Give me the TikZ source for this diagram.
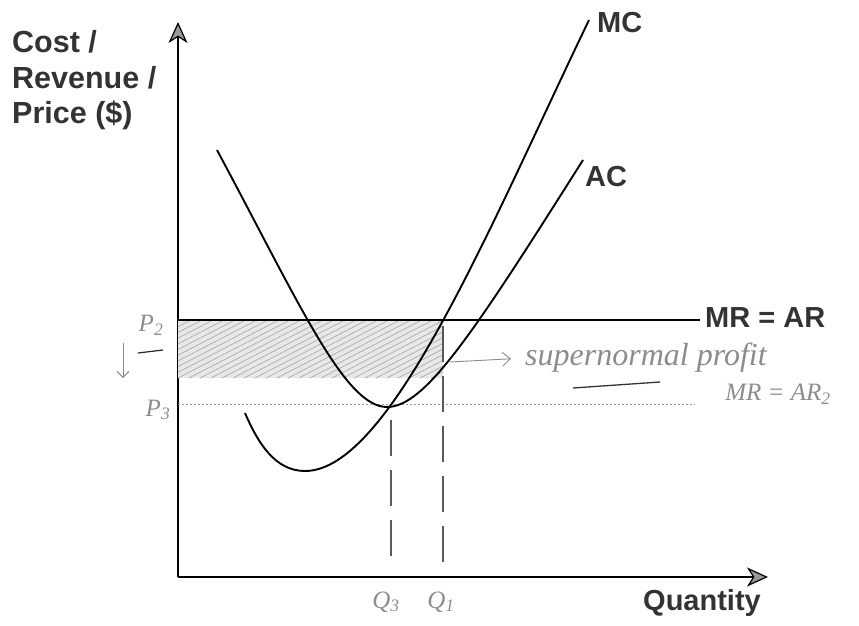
\documentclass[tikz,border=0pt]{standalone}
\usepackage{fontspec}
\setmainfont{Liberation Sans}
\newfontfamily\hand{Liberation Serif}
\usetikzlibrary{arrows.meta}
\begin{document}
\begin{tikzpicture}[x=1pt,y=-1pt,
  axis/.style={line width=1.7pt, draw=black},
  curve/.style={line width=1.9pt, draw=black},
  lab/.style={font=\fontsize{29}{35}\selectfont\bfseries, inner sep=0pt, anchor=base west, text=black!80},
  lablft/.style={lab, font=\fontsize{30.5}{35}\selectfont\bfseries},
  handtxt/.style={font=\hand\itshape\fontsize{32}{32}\selectfont, text=black!45, inner sep=0pt},
  handsm/.style={handtxt, font=\hand\itshape\fontsize{25}{25}\selectfont},
  qdash/.style={dash pattern=on 36pt off 14pt, line width=1.4pt, draw=black!65},
  axtip/.style={-{Stealth[length=21pt,width=19pt,inset=6pt,fill=black!40,line width=1.2pt]}},
  hatch/.style={draw=black!30, line width=0.8pt}
]
\useasboundingbox (0,0) rectangle (859,625);

% axes
\coordinate (O) at (178,577);
\coordinate (ytip) at (178,22);
\coordinate (xtip) at (768,577);
\draw[axis,axtip] (O) -- (ytip);
\draw[axis,axtip] (O) -- (xtip);

% shaded supernormal profit area
\begin{scope}
  \clip (178,321) rectangle (443,378);
  \fill[black!9] (178,321) rectangle (443,378);
  \foreach \i in {0,11,...,390} {
    \draw[hatch] (68+\i,378) -- (178+\i,321);
  }
\end{scope}

% MR = AR
\coordinate (mrL) at (178,320);
\coordinate (mrR) at (700,320);
\draw[line width=1.7pt] (mrL) -- (mrR);
\node[lab] (mrlab) at (705,327) {MR = AR};

% MR = AR2 dotted
\coordinate (p3L) at (178,404);
\coordinate (p3R) at (695,404);
\draw[black!40, line width=1pt, dash pattern=on 2pt off 2pt] (p3L) -- (p3R);

% AC curve
\draw[curve] (217,150) .. controls (300,305) and (345,407) .. (387,407)
  .. controls (425,407) and (473,334) .. (583,160);
% MC curve
\draw[curve] (245,413) .. controls (258,443) and (275,471) .. (305,471)
  .. controls (390,471) and (489,228) .. (589,20);

% dashed verticals
\coordinate (q1t) at (443,326);
\coordinate (q1b) at (443,563);
\coordinate (q3t) at (391,420);
\coordinate (q3b) at (391,565);
\draw[qdash] (q1t) -- (q1b);
\draw[qdash] (q3t) -- (q3b);

% labels
\node[lablft] (l1) at (12,52) {Cost /};
\node[lablft] (l2) at (12,88) {Revenue /};
\node[lablft] (l3) at (12,123) {Price (\$)};
\node[lab] (mc) at (597,32) {MC};
\node[lab] (ac) at (585,186) {AC};
\node[lab] (qty) at (643,610) {Quantity};

% handwriting
\node[handtxt, anchor=west] (sn) at (525,358) {supernormal profit};
\coordinate (a1) at (450,362);
\draw[black!45, line width=0.9pt, shorten >=14pt, -{Straight Barb[length=8pt,width=14pt]}] (a1) -- (sn.west);
\coordinate (u1) at (573,388);
\coordinate (u2) at (660,382);
\draw[black!80, line width=1.3pt] (u1) -- (u2);
\node[handsm] (mr2) at (778,394) {MR = AR\textsubscript{2}};
\node[handsm] (p2) at (151,325) {P\textsubscript{2}};
\node[handsm] (p3) at (158,410) {P\textsubscript{3}};
\node[handsm] (q3) at (386,602) {Q\textsubscript{3}};
\node[handsm] (q1) at (441,602) {Q\textsubscript{1}};
\coordinate (d1) at (123,343);
\coordinate (d2) at (123,378);
\draw[black!45, line width=0.9pt, -{Straight Barb[length=6pt,width=12pt]}] (d1) -- (d2);
\coordinate (m1) at (138,353);
\coordinate (m2) at (163,350);
\draw[black!85, line width=1.2pt] (m1) -- (m2);
\end{tikzpicture}
\end{document}
